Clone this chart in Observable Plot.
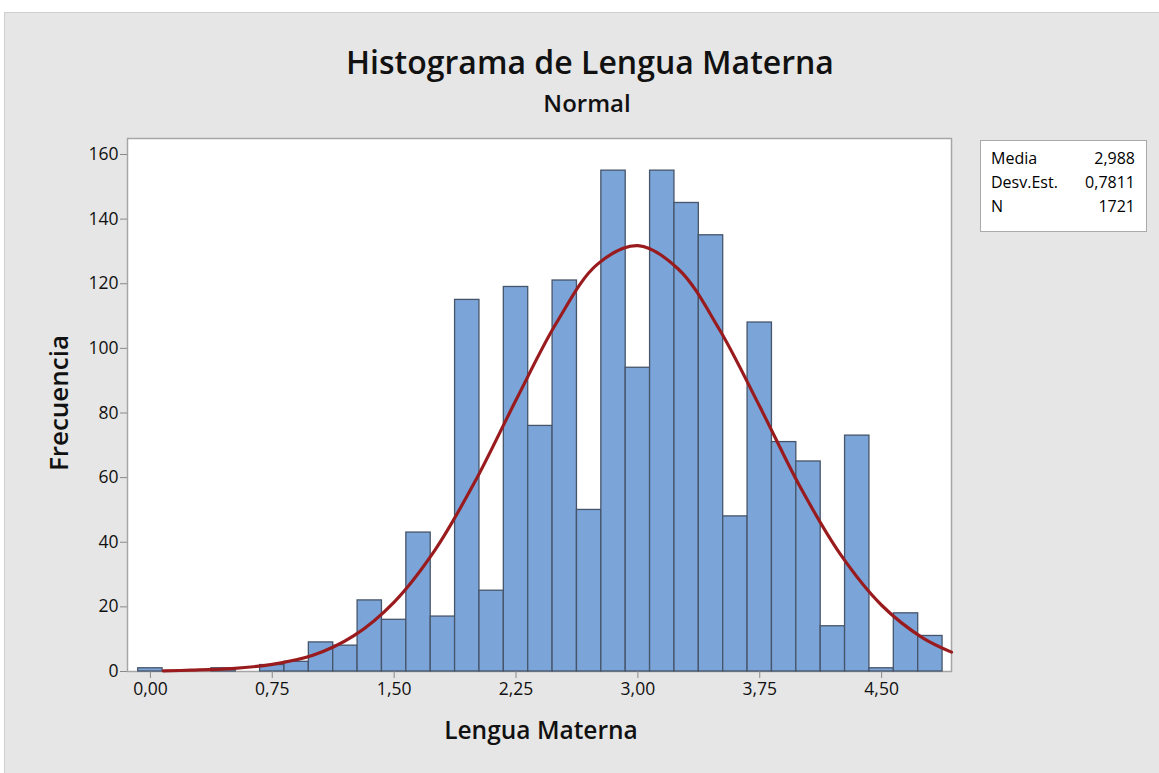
<!DOCTYPE html>
<html>
<head>
<meta charset="utf-8">
<script src="https://cdn.jsdelivr.net/npm/d3@7"></script>
<script src="https://cdn.jsdelivr.net/npm/@observablehq/plot@0.6"></script>
<style>
  html, body { margin: 0; padding: 0; background: #ffffff; }
  #wrap { position: relative; width: 1159px; height: 773px; overflow: hidden; font-family: "Open Sans", sans-serif; color: #111; }
  #panel { position: absolute; left: 4px; top: 12px; width: 1160px; height: 770px; background: #e6e6e6; border-top: 1px solid #cfcfcf; border-left: 1px solid #cfcfcf; }
  #chart { position: absolute; left: 0; top: 0; }
  .lbl { position: absolute; white-space: nowrap; }
  #title { left: 590px; top: 40px; transform: translateX(-50%); font-size: 32px; font-weight: 600; }
  #sub { left: 587px; top: 86px; transform: translateX(-50%); font-size: 24px; font-weight: 600; }
  #xlab { left: 541px; top: 713px; transform: translateX(-50%); font-size: 24.5px; font-weight: 600; }
  #ylab { left: 58px; top: 403px; transform: translate(-50%, -50%) rotate(-90deg); font-size: 26px; font-weight: 600; }
  #stats { position: absolute; left: 980px; top: 140px; width: 167px; height: 92px; background: #fff; border: 1px solid #a9a9a9; font-size: 16px; font-weight: 400; padding-top: 5px; box-sizing: border-box; color: #000; }
  .row { display: flex; justify-content: space-between; padding: 0 11px 0 10px; line-height: 24px; }
</style>
</head>
<body>
<div id="wrap">
  <div id="panel"></div>
  <div id="chart"></div>
  <div class="lbl" id="title">Histograma de Lengua Materna</div>
  <div class="lbl" id="sub">Normal</div>
  <div class="lbl" id="xlab">Lengua Materna</div>
  <div class="lbl" id="ylab">Frecuencia</div>
  <div id="stats"></div>
</div>
<script>
// Histogram bins (centers, bin width 0.15) and frequencies
const binCenters = [0.00, 0.15, 0.30, 0.45, 0.60, 0.75, 0.90, 1.05, 1.20, 1.35, 1.50, 1.65, 1.80, 1.95, 2.10, 2.25, 2.40, 2.55, 2.70, 2.85, 3.00, 3.15, 3.30, 3.45, 3.60, 3.75, 3.90, 4.05, 4.20, 4.35, 4.50, 4.65, 4.80];
const counts     = [1,    0,    0,    1,    0,    2,    3,    9,    8,    22,   16,   43,   17,   115,  25,   119,  76,   121,  50,   155,  94,   155,  145,  135,  48,   108,  71,   65,   14,   73,   1,    18,   11];
const binWidth = 0.15;

// Fitted normal curve
const curveX = [0.08, 0.25, 0.50, 0.75, 1.00, 1.25, 1.50, 1.75, 2.00, 2.25, 2.50, 2.75, 3.00, 3.25, 3.50, 3.75, 4.00, 4.25, 4.50, 4.75, 4.93];
const curveY = [0.2,  0.4,  0.9,  2.2,  5.0,  11,   21.5, 37.5, 59,   84,   108,  126,  131.8, 124.5, 106, 82,   57,   36,   20.5, 10.5, 6];

// Axis ticks
const xTicks = [0, 0.75, 1.5, 2.25, 3.0, 3.75, 4.5];
const yTicks = [0, 20, 40, 60, 80, 100, 120, 140, 160];

// Summary statistics box
const statLabels = ["Media", "Desv.Est.", "N"];
const statValues = ["2,988", "0,7811", "1721"];

const bars = binCenters.map((c, i) => ({x1: c - binWidth / 2, x2: c + binWidth / 2, y: counts[i]})).filter(d => d.y > 0);
const curve = curveX.map((x, i) => ({x, y: curveY[i]}));
const fmt = v => d3.format(".2f")(v).replace(".", ",");

const chart = Plot.plot({
  width: 1159,
  height: 773,
  marginLeft: 127,
  marginRight: 208,
  marginTop: 138,
  marginBottom: 102,
  style: {background: "transparent", fontFamily: "Open Sans, sans-serif", fontSize: "17px", color: "#1a1a1a"},
  x: {domain: [-0.141, 4.93], label: null},
  y: {domain: [0, 164.95], label: null},
  marks: [
    Plot.frame({fill: "white", stroke: "#a6a6a6", strokeWidth: 1.5}),
    Plot.rectY(bars, {x1: "x1", x2: "x2", y: "y", fill: "#7ba4d8", stroke: "#46556a", strokeWidth: 1.3}),
    Plot.line(curve, {x: "x", y: "y", curve: "catmull-rom", stroke: "#991b1e", strokeWidth: 3.2}),
    Plot.axisX({ticks: xTicks, tickFormat: fmt, tickSize: 7, tickPadding: 4, stroke: "#8a8a8a", fill: "#111", label: null, fontSize: 17.5}),
    Plot.axisY({ticks: yTicks, tickSize: 7, tickPadding: 2, stroke: "#8a8a8a", fill: "#111", label: null, fontSize: 17.5})
  ]
});
document.getElementById("chart").appendChild(chart);

const stats = document.getElementById("stats");
statLabels.forEach((l, i) => {
  const r = document.createElement("div");
  r.className = "row";
  r.innerHTML = `<span>${l}</span><span>${statValues[i]}</span>`;
  stats.appendChild(r);
});
</script>
</body>
</html>
